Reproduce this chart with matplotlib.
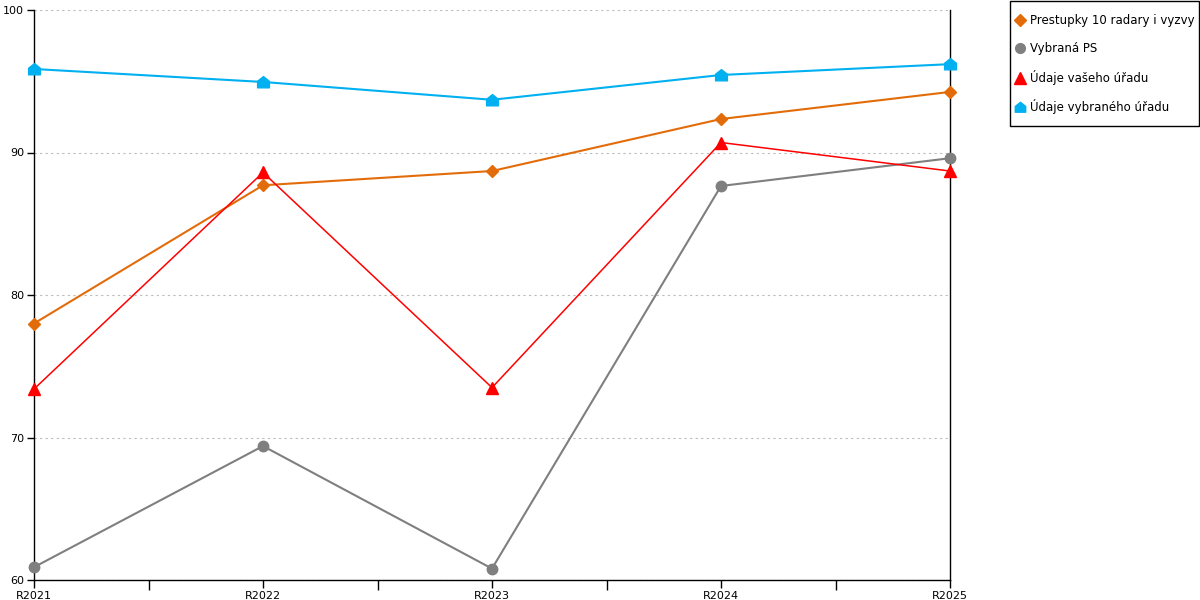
import matplotlib
matplotlib.use("Agg")
import matplotlib.pyplot as plt
from matplotlib.path import Path
from matplotlib.patches import Rectangle
from matplotlib.ticker import MultipleLocator

categories = ["R2021", "R2022", "R2023", "R2024", "R2025"]
prestupky = [78.0, 87.7, 88.7, 92.35, 94.25]
vybrana_ps = [60.9, 69.4, 60.8, 87.65, 89.6]
udaje_vaseho = [73.4, 88.6, 73.5, 90.7, 88.7]
udaje_vybraneho = [95.86, 94.95, 93.7, 95.44, 96.2]

series_names = ["Prestupky 10 radary i vyzvy", "Vybraná PS", "Údaje vašeho úřadu", "Údaje vybraného úřadu"]

house = Path([(-1, -0.9), (1, -0.9), (1, 0.2), (0, 1.0), (-1, 0.2), (-1, -0.9)],
             [Path.MOVETO, Path.LINETO, Path.LINETO, Path.LINETO, Path.LINETO, Path.CLOSEPOLY])

W, H = 1200, 600
fig = plt.figure(figsize=(12, 6), dpi=100)
ax = fig.add_axes([34/W, 20/H, (950-34)/W, 570/H])

x = list(range(len(categories)))
styles = [
    (prestupky, "#E36C0A", "D", 6.5, 1.5, 6.0),
    (vybrana_ps, "#7F7F7F", "o", 7.5, 1.5, 7.0),
    (udaje_vaseho, "#FF0000", "^", 8.5, 1.1, 8.0),
    (udaje_vybraneho, "#00B0F0", house, 8.5, 1.5, 7.5),
]
handles = []
for (vals, col, mk, ms, lw, lms), name in zip(styles, series_names):
    ax.plot(x, vals, color=col, lw=lw, zorder=3, clip_on=False)
    ax.plot(x, vals, color=col, lw=0, marker=mk, markersize=ms, zorder=4, clip_on=False)
    h, = ax.plot([], [], color=col, lw=0, marker=mk, markersize=lms, label=name)
    handles.append(h)

ax.set_xlim(0, 4)
ax.set_ylim(60, 100)
ax.set_xticks(x)
ax.set_xticklabels(categories)
ax.xaxis.set_minor_locator(MultipleLocator(0.5))
ax.yaxis.set_major_locator(MultipleLocator(10))
ax.tick_params(axis="both", which="both", labelsize=8, direction="out", width=1, color="black", pad=2)
ax.tick_params(axis="x", which="major", length=6)
ax.tick_params(axis="x", which="minor", length=7)
ax.tick_params(axis="y", length=5)
ax.yaxis.grid(True, color="#BBBBBB", linestyle=(0, (2, 3)), linewidth=0.8)
ax.set_axisbelow(True)
for s in ["left", "bottom", "right"]:
    ax.spines[s].set_color("black")
    ax.spines[s].set_linewidth(1)
ax.spines["top"].set_visible(False)

leg = fig.legend(handles=handles, loc="upper left", bbox_to_anchor=(1016.5/W, 1 - 14.4/H),
                 frameon=False, fontsize=8.5,
                 handlelength=0.6, handletextpad=0.55, labelspacing=1.24, borderpad=0,
                 borderaxespad=0)

frame = Rectangle((1009.5/W, (H-126)/H), 189.5/W, 125/H, transform=fig.transFigure,
                  facecolor="none", edgecolor="black", linewidth=1)
fig.patches.append(frame)

fig.savefig("out.png", dpi=100)
